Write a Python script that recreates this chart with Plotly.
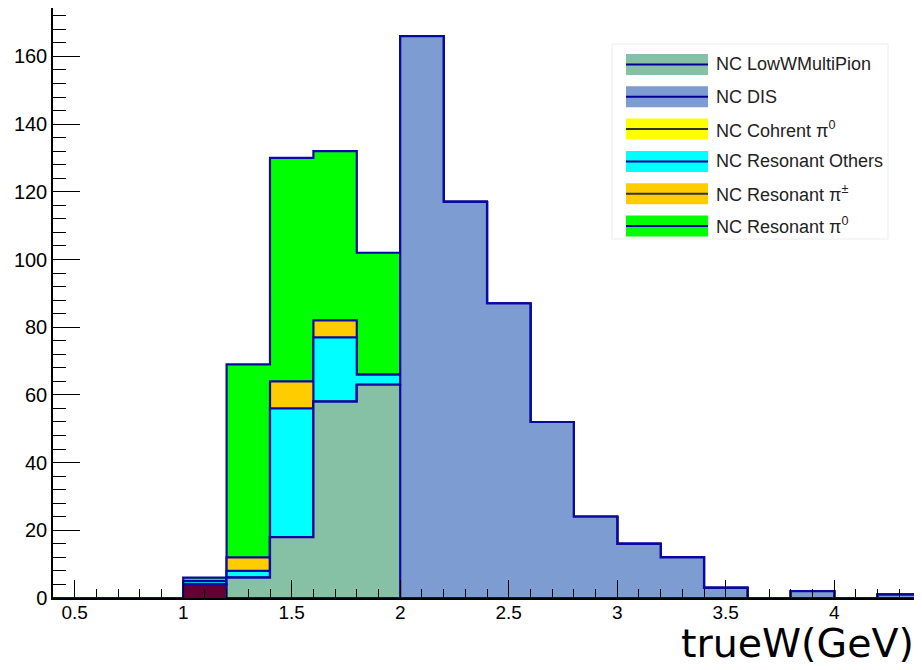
import plotly.graph_objects as go

# ---- data (bin width 0.2 GeV, from 0.4 to 4.4) ----
bin_edges = [0.4, 0.6, 0.8, 1.0, 1.2, 1.4, 1.6, 1.8, 2.0, 2.2, 2.4,
             2.6, 2.8, 3.0, 3.2, 3.4, 3.6, 3.8, 4.0, 4.2, 4.4]
nc_other = [0, 0, 0, 4, 0, 0, 0, 0, 0, 0, 0, 0, 0, 0, 0, 0, 0, 0, 0, 0]
nc_lowwmultipion = [0, 0, 0, 0, 6, 18, 58, 63, 0, 0, 0, 0, 0, 0, 0, 0, 0, 0, 0, 0]
nc_dis = [0, 0, 0, 0, 0, 0, 0, 0, 166, 117, 87, 52, 24, 16, 12, 3, 0, 2, 0, 1]
nc_coherent_pi0 = [0] * 20
nc_res_others = [0, 0, 0, 1, 2, 38, 19, 3, 0, 0, 0, 0, 0, 0, 0, 0, 0, 0, 0, 0]
nc_res_pipm = [0, 0, 0, 0, 4, 8, 5, 0, 0, 0, 0, 0, 0, 0, 0, 0, 0, 0, 0, 0]
nc_res_pi0 = [0, 0, 0, 1, 57, 66, 50, 36, 0, 0, 0, 0, 0, 0, 0, 0, 0, 0, 0, 0]

components = [  # bottom -> top
    ("NC Other", nc_other, "#660033", "#000099", False),
    ("NC LowWMultiPion", nc_lowwmultipion, "#86c1a5", "#000099", True),
    ("NC DIS", nc_dis, "#7c9cd2", "#000099", True),
    ("NC Cohrent π<sup>0</sup>", nc_coherent_pi0, "#ffff00", "#333333", True),
    ("NC Resonant Others", nc_res_others, "#00ffff", "#000099", True),
    ("NC Resonant π<sup>±</sup>", nc_res_pipm, "#ffcc00", "#333333", True),
    ("NC Resonant π<sup>0</sup>", nc_res_pi0, "#00ff00", "#000099", True),
]

# cumulative stacks
cum = []
running = [0] * len(nc_dis)
for name, vals, fc, lc, leg in components:
    running = [a + b for a, b in zip(running, vals)]
    cum.append((name, list(running), fc, lc, leg))

fig = go.Figure()
# draw from top (total) downwards so lower stacks overlay, like ROOT THStack
for name, vals, fc, lc, leg in reversed(cum):
    fig.add_trace(go.Scatter(
        x=bin_edges, y=vals + [vals[-1]],
        mode="lines", line=dict(shape="hv", color="#0a0aa0", width=2.2),
        fill="tozeroy", fillcolor=fc, name=name, showlegend=False,
        hoverinfo="skip"))

# ---- layout geometry (page has an 8px body margin) ----
OFF = 8
W, H = 914, 662
L, R, T, B = 53 - OFF, 921 - OFF, 0, 598 - OFF

def px(xs):  # screen x -> paper
    return (xs - OFF - L) / (R - L)

def py(ys):  # screen y -> paper
    return (B - (ys - OFF)) / (B - T)

shapes = []
annotations = []
# legend box
shapes.append(dict(type="rect", xref="paper", yref="paper",
                   x0=px(612), x1=px(888), y0=py(239), y1=py(44),
                   fillcolor="white", line=dict(color="#ececec", width=1), layer="above"))
legend_entries = [c for c in components if c[4]]
for i, (name, vals, fc, lc, leg) in enumerate(legend_entries):
    c = 64.5 + i * 32.3
    shapes.append(dict(type="rect", xref="paper", yref="paper",
                       x0=px(626), x1=px(708), y0=py(c + 10.5), y1=py(c - 10.5),
                       fillcolor=fc, line=dict(width=0), layer="above"))
    shapes.append(dict(type="line", xref="paper", yref="paper",
                       x0=px(626), x1=px(708), y0=py(c), y1=py(c),
                       line=dict(color=lc, width=2), layer="above"))
    annotations.append(dict(xref="paper", yref="paper", x=px(714), y=py(c),
                            xanchor="left", yanchor="middle", showarrow=False,
                            text=name, font=dict(family="Liberation Sans, Arial", size=18, color="#222222")))

annotations.append(dict(xref="paper", yref="paper", x=px(916), y=py(643),
                        xanchor="right", yanchor="middle", showarrow=False,
                        text="trueW(GeV)", font=dict(family="DejaVu Sans", size=39.5, color="black")))

fig.update_layout(
    width=W, height=H,
    margin=dict(l=L, r=W - R, t=T, b=H - B, pad=0, autoexpand=False),
    paper_bgcolor="white", plot_bgcolor="white",
    shapes=shapes, annotations=annotations, showlegend=False,
    xaxis=dict(range=[0.4, 4.4], showgrid=False, zeroline=False,
               showline=True, linecolor="black", linewidth=1.5, mirror=True,
               ticks="inside", ticklen=18, tickwidth=1.2, tickcolor="black",
               tick0=0.5, dtick=0.5, automargin=False, ticklabelstandoff=-4,
               minor=dict(ticks="inside", dtick=0.1, tick0=0.4, ticklen=9,
                          tickwidth=1.2, tickcolor="black"),
               tickfont=dict(family="Liberation Sans Narrow, Arial Narrow, Liberation Sans", size=19, color="black")),
    yaxis=dict(range=[0, 174.3], showgrid=False, zeroline=False,
               showline=True, linecolor="black", linewidth=1.5, mirror=True,
               ticks="inside", ticklen=27, tickwidth=1.2, tickcolor="black",
               tick0=0, dtick=20, automargin=False,
               minor=dict(ticks="inside", dtick=4, tick0=0, ticklen=13,
                          tickwidth=1.2, tickcolor="black"),
               tickfont=dict(family="Liberation Sans, Arial", size=20, color="black")),
)

fig.write_html("out.html")
